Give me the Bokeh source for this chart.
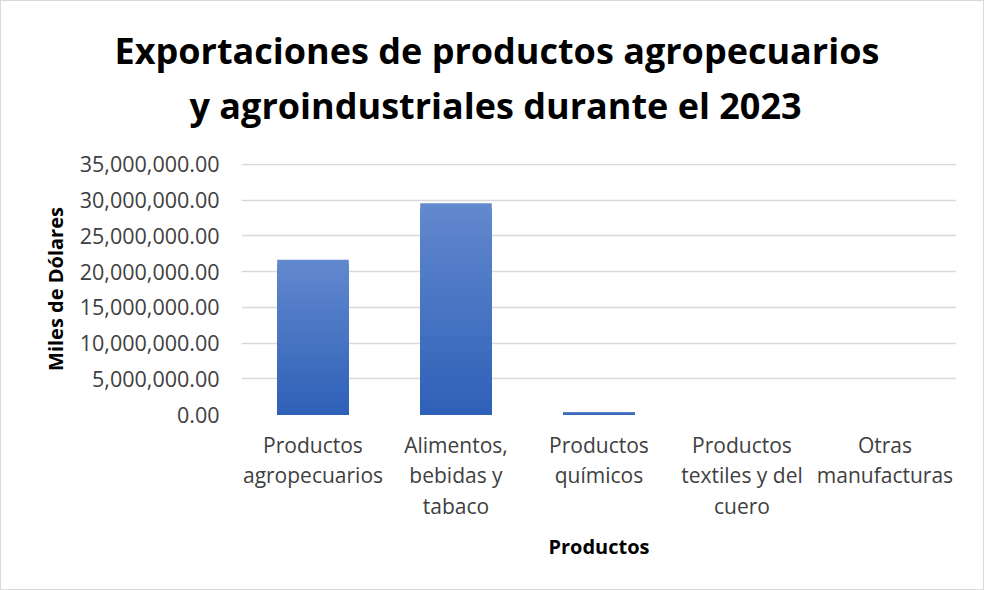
from bokeh.plotting import figure
from bokeh.models import Title, NumeralTickFormatter, SingleIntervalTicker, Range1d
from bokeh.embed import file_html
from bokeh.resources import INLINE

title_lines = ["Exportaciones de productos agropecuarios", "y agroindustriales durante el 2023"]
categories = ["Productos\nagropecuarios", "Alimentos,\nbebidas y\ntabaco", "Productos\nquímicos",
              "Productos\ntextiles y del\ncuero", "Otras\nmanufacturas"]
values = [21660000, 29540000, 300000, 15000, 10000]
y_max = 35000000
y_step = 5000000

FONT = "Open Sans"

p = figure(x_range=categories, width=984, height=590, output_backend="svg",
           toolbar_location=None, min_border_left=240, min_border_right=29,
           min_border_top=162, min_border_bottom=177)
p.y_range = Range1d(0, y_max * 1.003)

# gradient-like bars: overlapping layers from full height down, light at top, dark at bottom
top_rgb = (0x63, 0x88, 0xce)
bot_rgb = (0x2e, 0x61, 0xb8)
N = 40
for k in range(N):
    f_top = (N - k) / N
    t = (N - k - 0.5) / N
    c = tuple(int(round(b + (tp - b) * t)) for b, tp in zip(bot_rgb, top_rgb))
    col = "#%02x%02x%02x" % c
    p.vbar(x=categories, bottom=0, top=[v * f_top for v in values],
           width=0.5, fill_color=col, line_color=None)

# title: outermost line is p.title; spacer + second line stacked above the frame
p.title = Title(text=title_lines[0], align="left", offset=-127,
                text_font=FONT, text_font_size="36px", text_font_style="bold",
                text_color="#000000", standoff=4)
p.add_layout(Title(text=" ", text_font_size="1px", standoff=29), "above")
p.add_layout(Title(text=title_lines[1], align="left", offset=-52,
                   text_font=FONT, text_font_size="36px", text_font_style="bold",
                   text_color="#000000", standoff=4), "above")

p.yaxis.ticker = SingleIntervalTicker(interval=y_step)
p.yaxis.formatter = NumeralTickFormatter(format="0,0.00")
p.yaxis.axis_label = "Miles de Dólares"
p.xaxis.axis_label = "Productos"
for ax in (p.xaxis, p.yaxis):
    ax.axis_line_color = None
    ax.major_tick_line_color = None
    ax.minor_tick_line_color = None
    ax.major_tick_out = 0
    ax.major_tick_in = 0
    ax.minor_tick_out = 0
    ax.major_label_text_font = FONT
    ax.major_label_text_font_size = "21px"
    ax.major_label_text_color = "#404040"
    ax.axis_label_text_font = FONT
    ax.axis_label_text_font_size = "20px"
    ax.axis_label_text_font_style = "bold"
    ax.axis_label_text_color = "#000000"
p.yaxis.major_label_text_font_size = "21.5px"
p.xaxis.major_label_text_line_height = 1.09
p.yaxis.major_label_standoff = 22
p.xaxis.major_label_standoff = 16
p.xaxis.axis_label_standoff = 10
p.yaxis.axis_label_standoff = 8

p.xgrid.grid_line_color = None
p.ygrid.grid_line_color = "#d9d9d9"
p.ygrid.grid_line_width = 1.5
p.outline_line_color = None
p.x_range.range_padding = 0.0
p.styles = {"border": "1px solid #d9d9d9"}

open("out.html", "w").write(file_html(p, INLINE))
